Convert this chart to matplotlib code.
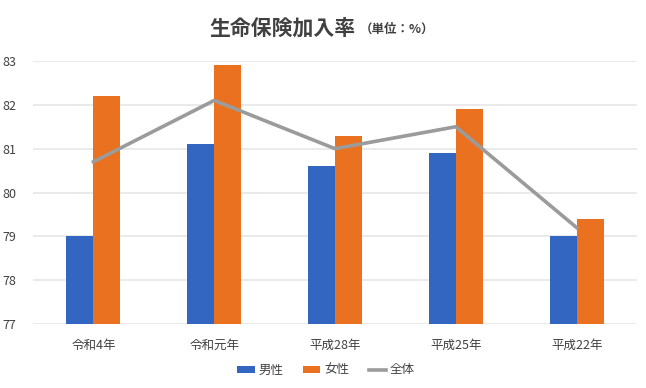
import matplotlib.pyplot as plt
import numpy as np

plt.rcParams['font.family'] = ['Noto Sans CJK JP', 'DejaVu Sans']

categories = ['令和4年', '令和元年', '平成28年', '平成25年', '平成22年']
male = [79.0, 81.1, 80.6, 80.9, 79.0]
female = [82.2, 82.9, 81.3, 81.9, 79.4]
total = [80.7, 82.1, 81.0, 81.5, 79.2]

blue = '#3366c0'
orange = '#e97120'
grey = '#9b9b9b'
text_col = '#404040'

fig = plt.figure(figsize=(6.46, 3.88), dpi=100)
ax = fig.add_axes([33 / 646, 1 - 324 / 388, 604 / 646, 263 / 388])

x = np.arange(len(categories))
w = 0.223
b1 = ax.bar(x - w / 2, male, w, color=blue, label='男性', zorder=2)
b2 = ax.bar(x + w / 2, female, w, color=orange, label='女性', zorder=2)
l1, = ax.plot(x, total, color=grey, linewidth=2.6, label='全体', zorder=3)

ax.set_xlim(-0.5, 4.5)
ax.set_ylim(77, 83)
ax.set_yticks(range(77, 84))
ax.set_xticks(x)
ax.set_xticklabels(categories)
ax.grid(axis='y', color='#e8e8e8', linewidth=1.3, zorder=0)
for s in ax.spines.values():
    s.set_visible(False)
ax.tick_params(axis='both', length=0, colors=text_col, labelsize=9)
ax.tick_params(axis='y', pad=12)
ax.tick_params(axis='x', pad=11)

fig.text(356 / 646, 1 - 28 / 388, '生命保険加入率', ha='right', va='center',
         fontsize=15, fontweight='bold', color=text_col)
fig.text(360 / 646, 1 - 29 / 388, '（単位：%）', ha='left', va='center',
         fontsize=9, fontweight='bold', color=text_col)

fig.legend([b1, b2, l1], ['男性', '女性', '全体'], loc='center',
           bbox_to_anchor=(326 / 646, 1 - 370 / 388), ncol=3,
           frameon=False, fontsize=9, handlelength=1.4, handleheight=0.5,
           columnspacing=1.55, handletextpad=0.3, labelcolor=text_col)

fig.savefig('out.png', dpi=100)
